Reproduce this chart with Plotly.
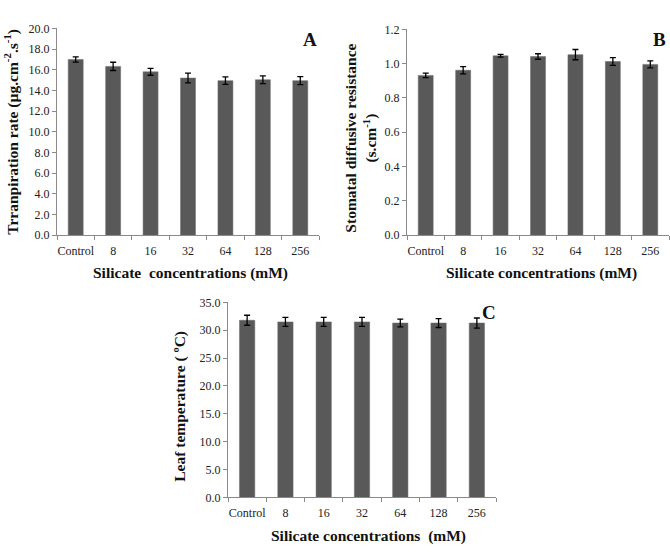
import plotly.graph_objects as go

categories = ["Control", "8", "16", "32", "64", "128", "256"]

transpiration = [17.0, 16.33, 15.8, 15.2, 14.95, 15.04, 14.95]
transpiration_err = [0.25, 0.4, 0.33, 0.47, 0.36, 0.37, 0.38]

resistance = [0.932, 0.962, 1.046, 1.042, 1.053, 1.013, 0.996]
resistance_err = [0.013, 0.021, 0.008, 0.016, 0.03, 0.023, 0.02]

leaf_temp = [31.8, 31.5, 31.5, 31.5, 31.3, 31.3, 31.3]
leaf_temp_err = [0.9, 0.8, 0.8, 0.8, 0.7, 0.8, 0.9]

W, H = 670, 560
BAR = "#595959"
FONT = "Liberation Serif"

def px(x):
    return x / W

def py(y):
    return 1 - y / H

fig = go.Figure()

panels = [
    ("x", "y", transpiration, transpiration_err),
    ("x2", "y2", resistance, resistance_err),
    ("x3", "y3", leaf_temp, leaf_temp_err),
]
for xa, ya, vals, errs in panels:
    fig.add_trace(go.Bar(
        x=categories, y=vals, xaxis=xa, yaxis=ya,
        marker=dict(color=BAR, line=dict(color="#6a6a6a", width=0.5)),
        width=0.4,
        error_y=dict(type="data", array=errs, visible=True,
                     color="black", thickness=1.3, width=3),
        showlegend=False, hoverinfo="skip",
    ))

xcommon = dict(type="category", showline=True, linecolor="#8a8a8a", linewidth=1,
               ticks="outside", tickson="boundaries", ticklen=4, tickcolor="#8a8a8a",
               tickangle=0, ticklabelstandoff=4,
               tickfont=dict(family=FONT, size=12, color="#222"),
               showgrid=False, zeroline=False, fixedrange=True)
ycommon = dict(showline=True, linecolor="#8a8a8a", linewidth=1,
               ticks="outside", ticklen=4, tickcolor="#8a8a8a",
               tickfont=dict(family=FONT, size=12, color="#222"),
               showgrid=False, zeroline=False, tickformat=".1f", fixedrange=True)

fig.update_layout(
    width=W, height=H,
    margin=dict(l=0, r=0, t=0, b=0),
    paper_bgcolor="white", plot_bgcolor="white",
    bargap=0.6,
    xaxis=dict(domain=[px(57), px(319)], anchor="y", **xcommon),
    yaxis=dict(domain=[py(234), py(22)], anchor="x", range=[0, 20], dtick=2, **ycommon),
    xaxis2=dict(domain=[px(407), px(669)], anchor="y2", **xcommon),
    yaxis2=dict(domain=[py(234), py(23)], anchor="x2", range=[0, 1.2], dtick=0.2, **ycommon),
    xaxis3=dict(domain=[px(228), px(496)], anchor="y3", **xcommon),
    yaxis3=dict(domain=[py(503), py(303)], anchor="x3", range=[0, 35], dtick=5, **ycommon),
)

title_font = dict(family=FONT, size=15.5, color="#111")
letter_font = dict(family=FONT, size=19, color="#111")

annotations = [
    # y titles
    dict(text="<b>Trranpiration rate (µg.cm<sup>-2</sup>.s<sup>-1</sup>)</b>",
         x=px(12), y=py(128), textangle=-90, font=title_font),
    dict(text="<b>Stomatal diffusive resistance<br>(s.cm<sup>-1</sup>)</b>",
         x=px(361), y=py(134), textangle=-90, font=title_font),
    dict(text="<b>Leaf temperature ( ºC)</b>",
         x=px(180), y=py(410), textangle=-90, font=title_font),
    # x titles
    dict(text="<b>Silicate  concentrations (mM)</b>", x=px(190), y=py(273), font=title_font),
    dict(text="<b>Silicate concentrations (mM)</b>", x=px(541), y=py(273), font=title_font),
    dict(text="<b>Silicate concentrations  (mM)</b>", x=px(368), y=py(543), font=title_font),
    # panel letters
    dict(text="<b>A</b>", x=px(310), y=py(33), font=letter_font),
    dict(text="<b>B</b>", x=px(659), y=py(33), font=letter_font),
    dict(text="<b>C</b>", x=px(489), y=py(313), font=letter_font),
]
for a in annotations:
    a.update(xref="paper", yref="paper", showarrow=False, xanchor="center", yanchor="middle")
fig.update_layout(annotations=annotations)

fig.write_html("out.html")
